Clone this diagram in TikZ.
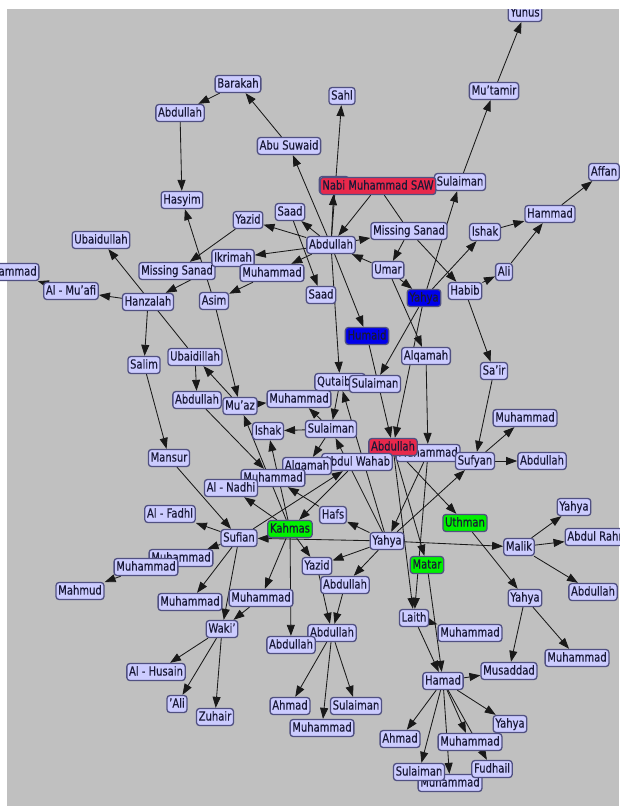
\documentclass[tikz,border=0pt]{standalone}
\usepackage{fontspec}
\setmainfont[FakeStretch=0.8,FakeBold=0.3]{DejaVu Sans}
\usetikzlibrary{arrows.meta}
\pgfdeclarelayer{back}
\pgfdeclarelayer{edges}
\pgfsetlayers{back,edges,main}
\definecolor{bgg}{RGB}{192,192,192}
\definecolor{nfill}{RGB}{204,204,255}
\definecolor{nbord}{RGB}{80,80,130}
\definecolor{ntext}{RGB}{25,25,55}
\definecolor{nred}{RGB}{232,40,75}
\definecolor{nblue}{RGB}{0,0,235}
\definecolor{ngreen}{RGB}{0,240,0}
\begin{document}
\begin{tikzpicture}[x=1pt,y=-1pt,
  nd/.style={draw=nbord, line width=1.3pt, fill=nfill, rounded corners=3pt,
    text=ntext, font=\fontsize{12.5}{12.5}\selectfont, inner xsep=2.2pt, inner ysep=0pt,
    minimum height=17pt, text height=9.7pt, text depth=2.6pt},
  rn/.style={nd, fill=nred},
  bn/.style={nd, fill=nblue},
  gn/.style={nd, fill=ngreen},
  ed/.style={-{Triangle[length=11pt,width=8pt]}, line width=0.85pt, black!90},
  pl/.style={line width=0.85pt, black!90}]
\useasboundingbox (0,0) rectangle (619,806);
\begin{pgfonlayer}{back}
\fill[white] (0,0) rectangle (619,806);
\fill[bgg] (7,9) rectangle (619,806);
\end{pgfonlayer}
% ---------- nodes ----------
\node[nd] (yunus) at (525,13) {Yunus};
\node[nd] (mutamir) at (494,91) {Mu’tamir};
\node[nd] (sulT) at (460,182) {Sulaiman};
\node[nd] (affan) at (604,172) {Affan};
\node[nd] (hammad) at (550,214) {Hammad};
\node[nd] (ishakR) at (485,232) {Ishak};
\node[nd] (ali) at (504,272) {Ali};
\node[nd] (habib) at (465,291) {Habib};
\node[bn] (yahyaB) at (424,298) {Yahya};
\node[nd] (msR) at (409,231) {Missing Sanad};
\node[nd] (umar) at (388,270) {Umar};
\node[nd] (abd1) at (331,245) {Abdullah};
\node[nd] (hid) at (334,185) {Yazid};
\node[rn] (nabi) at (378,186) {Nabi Muhammad SAW};
\node[nd] (sahl) at (342,96) {Sahl};
\node[nd] (abus) at (289,146) {Abu Suwaid};
\node[nd] (barakah) at (238,84) {Barakah};
\node[nd] (abdTL) at (180,113) {Abdullah};
\node[nd] (hasyim) at (182,200) {Hasyim};
\node[nd] (yazid1) at (248,220) {Yazid};
\node[nd] (saad1) at (290,212) {Saad};
\node[nd] (msL) at (177,271) {Missing Sanad};
\node[nd] (ikrimah) at (233,258) {Ikrimah};
\node[nd] (muh1) at (272,273) {Muhammad};
\node[nd] (ubaidullah) at (101,240) {Ubaidullah};
\node[nd] (mmadL) at (7,272) {Muhammad};
\node[nd] (alMuafi) at (71,291) {Al - Mu’afi};
\node[nd] (hanzalah) at (148,302) {Hanzalah};
\node[nd] (asim) at (214,301) {Asim};
\node[nd] (saad2) at (321,295) {Saad};
\node[bn] (humaid) at (367,336) {Humaid};
\node[nd] (alqamah1) at (426,356) {Alqamah};
\node[nd] (sair) at (494,371) {Sa’ir};
\node[nd] (salim) at (144,365) {Salim};
\node[nd] (ubaidillah) at (195,357) {Ubaidillah};
\node[nd] (abdL) at (197,400) {Abdullah};
\node[nd] (muaz) at (240,406) {Mu’az};
\node[nd] (muh2) at (299,399) {Muhammad};
\node[nd] (qutaib) at (340,382) {Qutaibah};
\node[nd] (sulM) at (375,384) {Sulaiman};
\node[nd] (ishakM) at (268,431) {Ishak};
\node[nd] (sul2) at (331,429) {Sulaiman};
\node[nd] (muhHid) at (428,453) {Muhammad};
\node[rn] (abdR) at (393,447) {Abdullah};
\node[nd] (abdWahab) at (357,462) {Abdul Wahab};
\node[nd] (alqamah2) at (307,466) {Alqamah};
\node[nd] (muh3) at (273,478) {Muhammad};
\node[nd] (muhR) at (525,418) {Muhammad};
\node[nd] (sufyan) at (475,461) {Sufyan};
\node[nd] (abdR2) at (542,461) {Abdullah};
\node[nd] (mansur) at (169,458) {Mansur};
\node[nd] (alNadhi) at (231,488) {Al - Nadhi};
\node[nd] (alFadhl) at (170,514) {Al - Fadhl};
\node[nd] (hafs) at (333,515) {Hafs};
\node[gn] (kahmas) at (290,529) {Kahmas};
\node[nd] (sufian) at (239,538) {Sufian};
\node[nd] (yahyaC) at (387,541) {Yahya};
\node[gn] (uthman) at (465,523) {Uthman};
\node[nd] (yahyaR) at (574,507) {Yahya};
\node[nd] (abdRah) at (604,537) {Abdul Rahman};
\node[nd] (malik) at (519,547) {Malik};
\node[nd] (abdRR) at (593,592) {Abdullah};
\node[nd] (yahyaRR) at (525,598) {Yahya};
\node[gn] (matar) at (427,565) {Matar};
\node[nd] (muhH) at (181,558) {Muhammad};
\node[nd] (muhL) at (146,567) {Muhammad};
\node[nd] (mahmud) at (80,591) {Mahmud};
\node[nd] (muhL2) at (190,602) {Muhammad};
\node[nd] (muhC) at (261,598) {Muhammad};
\node[nd] (yazid2) at (317,566) {Yazid};
\node[nd] (abdC) at (345,585) {Abdullah};
\node[nd] (waki) at (222,629) {Waki’};
\node[nd] (alHusain) at (156,672) {Al - Husain};
\node[nd] (ali2) at (177,704) {’Ali};
\node[nd] (zuhair) at (215,717) {Zuhair};
\node[nd] (abdC2) at (332,633) {Abdullah};
\node[nd] (abdC3) at (291,645) {Abdullah};
\node[nd] (ahmad1) at (290,706) {Ahmad};
\node[nd] (muhB) at (322,728) {Muhammad};
\node[nd] (sulB) at (356,706) {Sulaiman};
\node[nd] (laith) at (414,618) {Laith};
\node[nd] (muhL3) at (470,633) {Muhammad};
\node[nd] (muhRR) at (577,658) {Muhammad};
\node[nd] (musaddad) at (509,671) {Musaddad};
\node[nd] (hamad) at (443,681) {Hamad};
\node[nd] (yahyaB2) at (510,724) {Yahya};
\node[nd] (ahmad2) at (400,739) {Ahmad};
\node[nd] (muhB2) at (470,742) {Muhammad};
\node[nd] (muhB3) at (450,783) {Muhammad};
\node[nd] (sulB2) at (419,772) {Sulaiman};
\node[nd] (fudhail) at (492,769) {Fudhail};
% ---------- edges ----------
\begin{pgfonlayer}{edges}
\draw[ed] (sulT) -- (mutamir);
\draw[ed] (mutamir) -- (yunus);
\draw[ed] (hammad) -- (affan);
\draw[ed] (ishakR) -- (hammad);
\draw[ed] (ali) -- (hammad);
\draw[ed] (habib) -- (ali);
\draw[ed] (yahyaB) -- (ishakR);
\draw[ed] (msR) -- (habib);
\draw[ed] (habib) -- (sair);
\draw[ed] (yahyaB) -- (sulT);
\draw[ed] (msR) -- (umar);
\draw[ed] (umar) -- (yahyaB);
\draw[ed] (abd1) -- (msR);
\draw[ed] (umar) -- (abd1);
\draw[ed] (nabi) -- (abd1);
\draw[pl] (nabi) -- (msR);
\draw[ed] (abd1) -- (hid);
\draw[ed] (abd1) -- (sahl);
\draw[ed] (abd1) -- (abus);
\draw[ed] (abus) -- (barakah);
\draw[ed] (barakah) -- (abdTL);
\draw[ed] (abdTL) -- (hasyim);
\draw[ed] (abd1) -- (yazid1);
\draw[ed] (abd1) -- (saad1);
\draw[ed] (abd1) -- (ikrimah);
\draw[ed] (abd1) -- (muh1);
\draw[ed] (muh1) -- (asim);
\draw[ed] (yazid1) -- (msL);
\draw[ed] (asim) -- (hasyim);
\draw[ed] (ikrimah) -- (hanzalah);
\draw[ed] (hanzalah) -- (alMuafi);
\draw[ed] (alMuafi) -- (mmadL);
\draw[ed] (hanzalah) -- (salim);
\draw[ed] (ubaidillah) -- (ubaidullah);
\draw[ed] (ubaidillah) -- (abdL);
\draw[ed] (salim) -- (mansur);
\draw[ed] (mansur) -- (sufian);
\draw[ed] (asim) -- (muaz);
\draw[ed] (muaz) -- (ubaidillah);
\draw[ed] (muaz) -- (muh2);
\draw[ed] (saad1) -- (saad2);
\draw[ed] (abd1) -- (humaid);
\draw[ed] (abd1) -- (qutaib);
\draw[ed] (humaid) -- (abdR);
\draw[ed] (yahyaB) -- (sulM);
\draw[ed] (yahyaB) -- (abdR);
\draw[ed] (umar) -- (alqamah1);
\draw[ed] (alqamah1) -- (muhHid);
\draw[ed] (sair) -- (sufyan);
\draw[ed] (sufyan) -- (muhR);
\draw[ed] (sufyan) -- (abdR2);
\draw[ed] (sul2) -- (ishakM);
\draw[ed] (sul2) -- (muh2);
\draw[ed] (qutaib) -- (sul2);
\draw[ed] (sul2) -- (alqamah2);
\draw[ed] (yahyaC) -- (qutaib);
\draw[ed] (yahyaC) -- (sul2);
\draw[ed] (abdR) -- (uthman);
\draw[ed] (abdR) -- (matar);
\draw[ed] (yahyaC) -- (sufyan);
\draw[ed] (yahyaC) -- (malik);
\draw[ed] (yahyaC) -- (hafs);
\draw[ed] (hafs) -- (muh3);
\draw[ed] (yahyaC) -- (sufian);
\draw[ed] (sufian) -- (alFadhl);
\draw[ed] (sufian) -- (muhH);
\draw[ed] (sufian) -- (muhL2);
\draw[ed] (muhL) -- (mahmud);
\draw[ed] (sufian) -- (abdWahab);
\draw[ed] (abdWahab) -- (kahmas);
\draw[ed] (kahmas) -- (alNadhi);
\draw[ed] (kahmas) -- (muaz);
\draw[ed] (kahmas) -- (ishakM);
\draw[ed] (abdL) -- (muh3);
\draw[ed] (muhHid) -- (yahyaC);
\draw[ed] (uthman) -- (yahyaRR);
\draw[ed] (malik) -- (yahyaR);
\draw[ed] (malik) -- (abdRah);
\draw[ed] (malik) -- (abdRR);
\draw[ed] (matar) -- (hamad);
\draw[ed] (yahyaRR) -- (musaddad);
\draw[ed] (yahyaRR) -- (muhRR);
\draw[ed] (laith) -- (muhL3);
\draw[ed] (laith) -- (hamad);
\draw[ed] (hamad) -- (musaddad);
\draw[ed] (hamad) -- (ahmad2);
\draw[ed] (hamad) -- (sulB2);
\draw[ed] (hamad) -- (muhB3);
\draw[ed] (hamad) -- (muhB2);
\draw[ed] (hamad) -- (yahyaB2);
\draw[ed] (hamad) -- (fudhail);
\draw[ed] (abdC2) -- (ahmad1);
\draw[ed] (abdC2) -- (muhB);
\draw[ed] (abdC2) -- (sulB);
\draw[ed] (yazid2) -- (abdC2);
\draw[ed] (abdC) -- (abdC2);
\draw[ed] (waki) -- (alHusain);
\draw[ed] (waki) -- (ali2);
\draw[ed] (waki) -- (zuhair);
\draw[ed] (yahyaC) -- (yazid2);
\draw[ed] (yahyaC) -- (abdC);
\draw[ed] (kahmas) -- (muhC);
\draw[ed] (kahmas) -- (abdC3);
\draw[ed] (kahmas) -- (yazid2);
\draw[ed] (muhC) -- (waki);
\draw[ed] (sufian) -- (waki);
\draw[ed] (abdR) -- (laith);
\draw[ed] (muhHid) -- (laith);
\end{pgfonlayer}
\fill[white] (0,0) rectangle (619,8.5);
\end{tikzpicture}
\end{document}
